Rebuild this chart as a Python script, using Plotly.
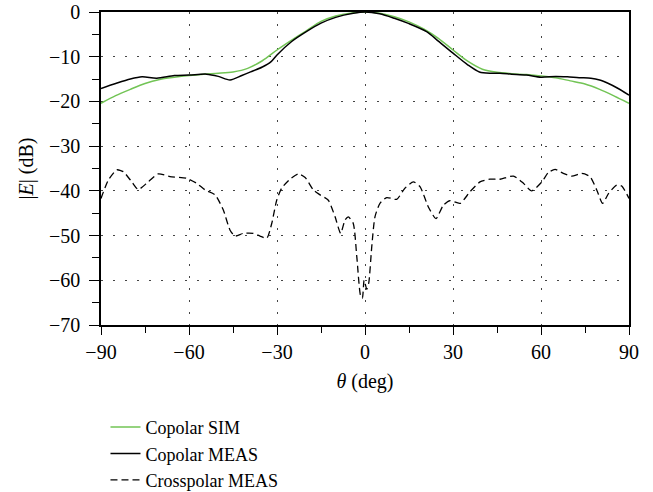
import plotly.graph_objects as go

# Copolar SIM (green)
sim_theta = [-90, -85, -80, -75, -70, -65, -60, -55, -50, -45, -40, -35, -30, -25, -20, -15, -10, -5, 0,
             5, 10, 15, 20, 25, 30, 35, 40, 45, 50, 55, 60, 65, 70, 75, 80, 85, 90]
sim_db = [-20.4, -18.7, -17.3, -16.0, -15.1, -14.6, -14.2, -13.9, -13.7, -13.4, -12.6, -10.9, -8.5, -6.3, -4.2, -2.1, -0.9, -0.25, 0.0,
          -0.3, -1.05, -2.2, -3.8, -5.9, -8.5, -11.0, -12.8, -13.5, -13.8, -14.0, -14.3, -14.7, -15.4, -16.1, -17.3, -18.8, -20.4]

# Copolar MEAS (black)
meas_theta = [-90, -85, -80, -76, -71, -65, -60, -54, -50, -46, -42, -39, -35, -32, -30, -25, -20, -15, -10, -4, 0,
              5, 10, 15, 21, 25, 30, 35, 39, 43, 46, 50, 55, 60, 65, 69, 73, 77, 80, 83, 86, 90]
meas_db = [-17.1, -16.0, -15.0, -14.5, -14.8, -14.2, -14.1, -13.9, -14.4, -15.2, -14.2, -13.4, -12.3, -11.1, -9.6, -6.6, -4.4, -2.5, -1.2, -0.3, 0.0,
           -0.4, -1.4, -2.6, -4.4, -6.5, -9.2, -11.8, -13.4, -13.7, -13.7, -13.9, -14.1, -14.6, -14.4, -14.5, -14.7, -14.8, -15.2, -16.0, -17.0, -18.6]

# Crosspolar MEAS (dashed)
cross_theta = [-90, -87.5, -84.6, -82.4, -79.5, -77.3, -73.9, -70.5, -66.5, -60.8, -57.4, -54.5, -51.1, -48.3, -46.0, -44.3,
               -41.5, -38.1, -35.8, -33.5, -31.8, -30.1, -28.4, -25.6, -22.7, -20.4, -17.6, -15.3, -12.5, -10.2, -8.3, -6.8,
               -5.7, -4.0, -2.8, -1.5, -0.9, -0.3, 0.6, 1.3, 2.3, 3.4, 5.1, 7.4, 10.8, 13.6, 16.5, 18.8, 21.6, 24.2, 26.7,
               29.0, 32.4, 35.8, 39.2, 42.6, 46.0, 50.6, 54.0, 56.8, 60.3, 62.5, 64.8, 67.6, 70.5, 73.9, 76.7, 79.0, 81.0,
               83.0, 85.8, 87.5, 90]
cross_db = [-41.7, -37.6, -35.3, -35.7, -38.0, -39.7, -38.0, -36.2, -36.8, -37.2, -38.3, -39.8, -40.9, -44.3, -48.8, -50.1,
            -49.5, -49.5, -50.1, -50.6, -47.3, -42.1, -39.4, -37.4, -36.2, -37.0, -39.8, -40.9, -42.1, -45.8, -49.5, -46.5,
            -45.8, -47.3, -54.7, -63.5, -64.0, -60.0, -62.0, -60.5, -52.5, -45.8, -42.8, -41.5, -41.9, -39.4, -38.0, -39.1,
            -43.6, -46.2, -43.2, -42.2, -42.8, -40.2, -38.0, -37.4, -37.4, -36.7, -38.3, -40.0, -38.0, -35.9, -35.2, -36.1,
            -36.7, -36.1, -36.8, -39.8, -42.8, -40.6, -38.7, -38.9, -41.7]

x_ticks = [-90, -60, -30, 0, 30, 60, 90]
y_ticks = [0, -10, -20, -30, -40, -50, -60, -70]

FONT = "Liberation Serif"


def lab(v):
    return str(v) if v >= 0 else "\u2212" + str(-v)


fig = go.Figure()
fig.add_trace(go.Scatter(x=sim_theta, y=sim_db, mode="lines", name="Copolar SIM",
                         line=dict(color="#72c455", width=1.5, shape="spline", smoothing=0.8)))
fig.add_trace(go.Scatter(x=meas_theta, y=meas_db, mode="lines", name="Copolar MEAS",
                         line=dict(color="#000000", width=1.5, shape="spline", smoothing=0.8)))
fig.add_trace(go.Scatter(x=cross_theta, y=cross_db, mode="lines", name="Crosspolar MEAS",
                         line=dict(color="#000000", width=1.3, dash="7px,4px", shape="spline", smoothing=0.6)))

fig.update_layout(
    width=653, height=492,
    margin=dict(l=101, r=24, t=12, b=167, autoexpand=False),
    paper_bgcolor="white", plot_bgcolor="white",
    font=dict(family=FONT, size=20, color="black"),
    showlegend=True,
    legend=dict(x=0.0085, y=-0.268, xanchor="left", yanchor="top", orientation="v",
                bgcolor="rgba(0,0,0,0)", font=dict(family=FONT, size=18),
                tracegroupgap=0),
)
fig.update_xaxes(
    range=[-90, 90], tickvals=x_ticks, ticktext=[lab(v) for v in x_ticks],
    showline=True, linecolor="black", linewidth=1.5, mirror=True,
    ticks="outside", ticklen=8, tickcolor="black", tickwidth=1.2,
    minor=dict(dtick=15, tick0=-90, ticks="outside", ticklen=6, tickcolor="black", showgrid=False),
    showgrid=True, gridcolor="#444444", griddash="2px,10px", gridwidth=1.2,
    zeroline=False, tickfont=dict(family=FONT, size=20),
    title=dict(text="<i>θ</i> (deg)", standoff=12, font=dict(family=FONT, size=20)),
)
fig.update_yaxes(
    range=[-70, 0], tickvals=y_ticks, ticktext=[lab(v) for v in y_ticks],
    showline=True, linecolor="black", linewidth=1.5, mirror=True,
    ticks="outside", ticklen=10, tickcolor="black", tickwidth=1.2,
    minor=dict(dtick=5, tick0=0, ticks="outside", ticklen=7, tickcolor="black", showgrid=False),
    showgrid=True, gridcolor="#444444", griddash="2px,10px", gridwidth=1.2,
    zeroline=False, tickfont=dict(family=FONT, size=20), ticklabelstandoff=5,
    ticklabeloverflow="allow",
    title=dict(text="|<i>E</i>| (dB)", standoff=10, font=dict(family=FONT, size=20)),
)

# remove the default 8px page margin so the figure fills the window exactly
fig.write_html("out.html", config={"displayModeBar": False},
               post_script="document.body.style.margin='0';")
